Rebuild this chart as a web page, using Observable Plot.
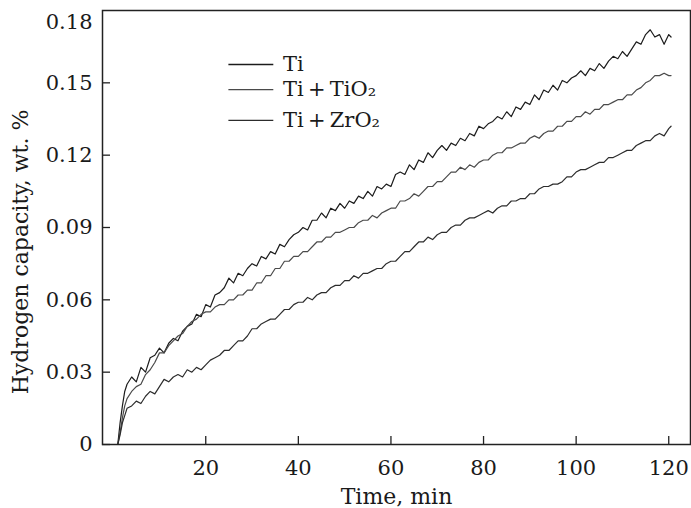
<!DOCTYPE html>
<html><head><meta charset="utf-8">
<script src="https://cdn.jsdelivr.net/npm/d3@7"></script>
<script src="https://cdn.jsdelivr.net/npm/@observablehq/plot@0.6"></script>
<style>body{margin:0;background:#fff}</style>
</head><body><div id="chart"></div>
<script>
// Time, min
const times = [1, 1.5, 2, 2.5, 3,
  4,5,6,7,8,9,10,11,12,13,
  14,15,16,17,18,19,20,21,22,23,
  24,25,26,27,28,29,30,31,32,33,
  34,35,36,37,38,39,40,41,42,43,
  44,45,46,47,48,49,50,51,52,53,
  54,55,56,57,58,59,60,61,62,63,
  64,65,66,67,68,69,70,71,72,73,
  74,75,76,77,78,79,80,81,82,83,
  84,85,86,87,88,89,90,91,92,93,
  94,95,96,97,98,99,100,101,102,103,
  104,105,106,107,108,109,110,111,112,113,
  114,115,116,117,118,119,120,120.5];

// Hydrogen capacity, wt. %
const ti = [0.000, 0.009, 0.016, 0.022, 0.025,
  0.028, 0.026, 0.032, 0.030, 0.036, 0.037, 0.040, 0.038, 0.042, 0.044,
  0.043, 0.047, 0.049, 0.050, 0.054, 0.053, 0.058, 0.057, 0.062, 0.063,
  0.065, 0.069, 0.067, 0.071, 0.070, 0.073, 0.075, 0.074, 0.078, 0.077,
  0.080, 0.079, 0.083, 0.082, 0.085, 0.087, 0.088, 0.090, 0.089, 0.093,
  0.093, 0.096, 0.094, 0.098, 0.097, 0.100, 0.098, 0.101, 0.100, 0.103,
  0.102, 0.105, 0.103, 0.107, 0.106, 0.108, 0.107, 0.112, 0.113, 0.112,
  0.116, 0.114, 0.118, 0.117, 0.121, 0.119, 0.122, 0.124, 0.122, 0.125,
  0.124, 0.127, 0.126, 0.129, 0.128, 0.132, 0.131, 0.133, 0.134, 0.136,
  0.135, 0.138, 0.136, 0.140, 0.139, 0.142, 0.141, 0.145, 0.143, 0.147,
  0.146, 0.149, 0.147, 0.151, 0.150, 0.152, 0.153, 0.155, 0.153, 0.156,
  0.155, 0.158, 0.156, 0.159, 0.161, 0.160, 0.163, 0.161, 0.164, 0.167,
  0.166, 0.170, 0.172, 0.169, 0.170, 0.166, 0.170, 0.169];

const tiTiO2 = [0.000, 0.005, 0.011, 0.016, 0.019,
  0.022, 0.024, 0.025, 0.029, 0.031, 0.034, 0.038, 0.038, 0.041, 0.043,
  0.045, 0.046, 0.049, 0.051, 0.052, 0.054, 0.055, 0.055, 0.057, 0.058,
  0.058, 0.060, 0.060, 0.062, 0.062, 0.064, 0.064, 0.067, 0.067, 0.070,
  0.070, 0.073, 0.073, 0.076, 0.076, 0.078, 0.078, 0.080, 0.080, 0.082,
  0.084, 0.084, 0.086, 0.086, 0.088, 0.088, 0.089, 0.090, 0.090, 0.092,
  0.093, 0.093, 0.095, 0.094, 0.096, 0.097, 0.098, 0.098, 0.101, 0.101,
  0.102, 0.104, 0.103, 0.105, 0.107, 0.107, 0.109, 0.109, 0.111, 0.113,
  0.113, 0.115, 0.114, 0.116, 0.115, 0.117, 0.118, 0.118, 0.120, 0.121,
  0.121, 0.123, 0.123, 0.124, 0.125, 0.125, 0.127, 0.128, 0.127, 0.129,
  0.130, 0.130, 0.132, 0.132, 0.134, 0.134, 0.136, 0.136, 0.138, 0.137,
  0.139, 0.139, 0.141, 0.141, 0.142, 0.143, 0.143, 0.145, 0.145, 0.147,
  0.148, 0.150, 0.151, 0.153, 0.153, 0.154, 0.153, 0.153];

const tiZrO2 = [0.000, 0.004, 0.009, 0.012, 0.015,
  0.016, 0.018, 0.017, 0.020, 0.022, 0.021, 0.024, 0.027, 0.026, 0.028,
  0.029, 0.028, 0.031, 0.030, 0.032, 0.031, 0.033, 0.035, 0.036, 0.037,
  0.039, 0.039, 0.041, 0.043, 0.043, 0.045, 0.048, 0.048, 0.050, 0.051,
  0.052, 0.052, 0.054, 0.056, 0.056, 0.058, 0.059, 0.059, 0.061, 0.060,
  0.062, 0.063, 0.063, 0.065, 0.066, 0.066, 0.068, 0.068, 0.070, 0.069,
  0.071, 0.071, 0.072, 0.073, 0.073, 0.075, 0.076, 0.076, 0.078, 0.080,
  0.080, 0.082, 0.084, 0.084, 0.086, 0.085, 0.087, 0.088, 0.088, 0.090,
  0.091, 0.091, 0.093, 0.094, 0.094, 0.095, 0.096, 0.097, 0.096, 0.098,
  0.099, 0.099, 0.101, 0.101, 0.102, 0.102, 0.104, 0.104, 0.106, 0.107,
  0.107, 0.108, 0.108, 0.109, 0.111, 0.111, 0.113, 0.114, 0.114, 0.115,
  0.116, 0.117, 0.117, 0.119, 0.119, 0.120, 0.121, 0.122, 0.122, 0.124,
  0.125, 0.126, 0.126, 0.128, 0.129, 0.128, 0.131, 0.132];

const seriesNames = ["Ti", "Ti\u2009+\u2009TiO\u2082", "Ti\u2009+\u2009ZrO\u2082"];
const xTicks = [20, 40, 60, 80, 100, 120];
const yTicks = [0, 0.03, 0.06, 0.09, 0.12, 0.15];
const yTopTick = [0.18];
const xLabel = "Time, min";
const yLabel = "Hydrogen capacity, wt. %";

// styling / layout
const colors = ["#1c1c1c", "#4a4a4a", "#2c2c2c"];
const legend = {x1: 25, x2: 34.7, tx: 36.7, y: [0.1576, 0.1472, 0.1344]};
const ink = "#1a1a1a";
const fmt = d => d === 0 ? "0" : d.toFixed(2);

const seriesValues = [ti, tiTiO2, tiZrO2];
const rows = seriesValues.map(vals => times.map((t, i) => ({t, v: vals[i]})));
const legendRows = seriesNames.map((name, i) => ({name, i, y: legend.y[i]}));

const chart = Plot.plot({
  width: 691, height: 508,
  marginLeft: 102, marginRight: 1, marginTop: 10, marginBottom: 64,
  style: {fontFamily: "'DejaVu Serif', serif", fontSize: "21px", color: ink, background: "#fff"},
  x: {domain: [-2.3, 124.7]},
  y: {domain: [0, 0.18]},
  marks: [
    ...rows.map((r, i) => Plot.lineY(r, {x: "t", y: "v", stroke: colors[i], strokeWidth: 1.2})),
    Plot.frame({stroke: "#222", strokeWidth: 1.5}),
    Plot.tickY(yTicks, {y: d => d, insetRight: 580, stroke: "#222", strokeWidth: 1.3}),
    Plot.tickX(xTicks, {x: d => d, insetTop: 426, stroke: "#222", strokeWidth: 1.3}),
    Plot.axisY(yTicks, {tickSize: 0, tickPadding: 10, tickFormat: fmt, fill: ink, letterSpacing: 1}),
    Plot.axisY(yTopTick, {tickSize: 0, tickPadding: 10, dy: 12, tickFormat: fmt, fill: ink, letterSpacing: 1}),
    Plot.axisX(xTicks, {tickSize: 0, tickPadding: 16, fill: ink, letterSpacing: 1, label: null}),
    Plot.text([xLabel], {frameAnchor: "bottom", dy: 52.5, textAnchor: "middle", lineAnchor: "middle", fontSize: 22, fill: ink, letterSpacing: 0.8}),
    Plot.text([yLabel], {frameAnchor: "left", dx: -82, dy: 24.5, rotate: -90, textAnchor: "middle", lineAnchor: "middle", fontSize: 22, fill: ink, letterSpacing: 2.6}),
    Plot.ruleY(legendRows, {y: "y", x1: legend.x1, x2: legend.x2, stroke: d => colors[d.i], strokeWidth: 1.3}),
    Plot.text(legendRows, {x: legend.tx, y: "y", text: "name", textAnchor: "start", lineAnchor: "middle", fontSize: 21, fill: ink, letterSpacing: 0.5})
  ]
});
document.getElementById("chart").appendChild(chart);
</script>
</body></html>
